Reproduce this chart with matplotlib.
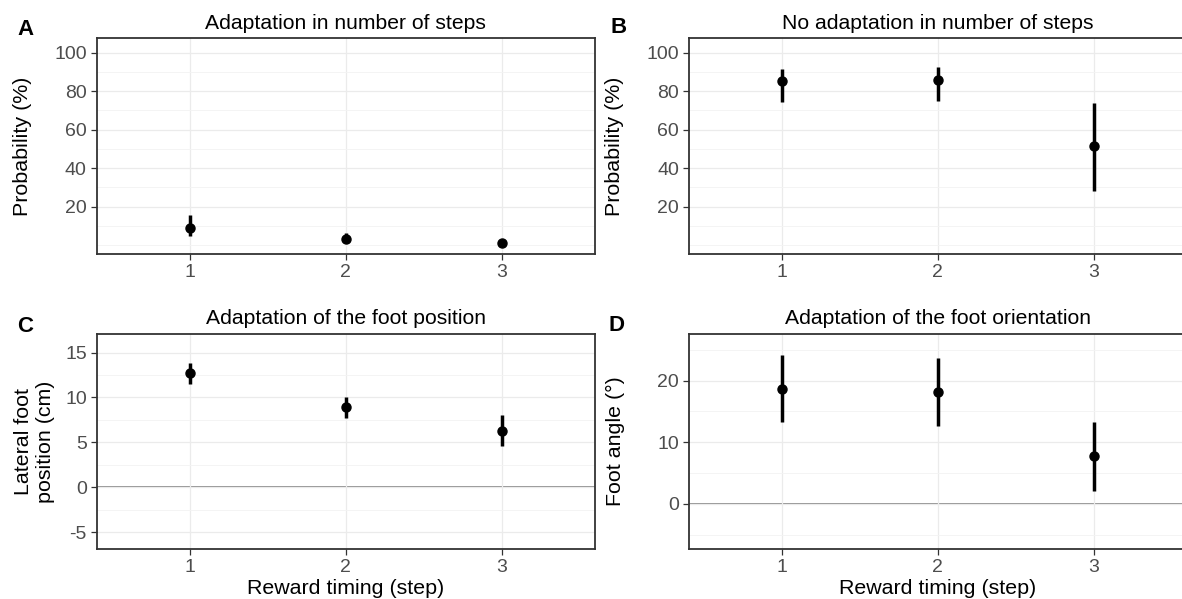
import matplotlib
matplotlib.use("Agg")
import matplotlib.pyplot as plt

plt.rcParams['font.family'] = ['Liberation Sans', 'DejaVu Sans']
plt.rcParams['axes.unicode_minus'] = False

# reward timing (step)
steps = [1, 2, 3]

# A: adaptation in number of steps (probability %)
adapt_mean = [8.8, 3.3, 1.3]
adapt_lo = [4.8, 1.0, 0.3]
adapt_hi = [15.7, 6.2, 2.4]

# B: no adaptation in number of steps (probability %)
noadapt_mean = [85.1, 86.0, 51.5]
noadapt_lo = [74.4, 74.8, 28.3]
noadapt_hi = [91.7, 92.7, 74.0]

# C: lateral foot position (cm)
pos_mean = [12.7, 8.9, 6.3]
pos_lo = [11.5, 7.7, 4.6]
pos_hi = [13.85, 10.0, 8.1]

# D: foot angle (deg)
ang_mean = [18.7, 18.2, 7.7]
ang_lo = [13.3, 12.6, 2.0]
ang_hi = [24.1, 23.7, 13.3]

W, H = 1182, 599
fig = plt.figure(figsize=(W / 100, H / 100), dpi=100)


def px_axes(left, top, right, bottom):
    return fig.add_axes([left / W, 1 - bottom / H, (right - left) / W, (bottom - top) / H])


def panel(ax, mean, lo, hi, title, ylabel, ylim, yticks, yminor, hline=False, xlabel=None, ylab_x=-0.129):
    ax.set_xlim(0.4, 3.6)
    ax.set_ylim(*ylim)
    ax.set_yticks(yticks)
    ax.set_yticks(yminor, minor=True)
    ax.set_xticks(steps)
    ax.grid(which='major', color='#EBEBEB', lw=0.9, zorder=0)
    ax.grid(which='minor', axis='y', color='#F3F3F3', lw=0.6, zorder=0)
    ax.tick_params(which='minor', length=0)
    ax.tick_params(which='major', length=4, width=0.9, color='#333333', pad=3,
                   labelsize=14, labelcolor='#4D4D4D')
    if hline:
        ax.axhline(0, color='#888888', lw=1.3, zorder=1)
    ax.vlines(steps, lo, hi, color='black', lw=2.5, zorder=3)
    ax.plot(steps, mean, 'o', color='black', ms=6.5, zorder=4)
    for s in ax.spines.values():
        s.set_color('#333333')
        s.set_linewidth(1.3)
    ax.set_title(title, fontsize=15.2, pad=7)
    ax.set_ylabel(ylabel, fontsize=15.4)
    ax.yaxis.set_label_coords(ylab_x, 0.5)
    if xlabel:
        ax.set_xlabel(xlabel, fontsize=15.4, labelpad=2)


axA = px_axes(96.5, 38.3, 595.2, 254)
axB = px_axes(688.7, 38.3, 1187, 254)
axC = px_axes(96.5, 333.7, 595.2, 549.3)
axD = px_axes(688.7, 333.7, 1187, 549.3)

prob_ticks = [20, 40, 60, 80, 100]
prob_minor = [0, 10, 30, 50, 70, 90]

panel(axA, adapt_mean, adapt_lo, adapt_hi, 'Adaptation in number of steps',
      'Probability (%)', (-4.6, 107.5), prob_ticks, prob_minor)
panel(axB, noadapt_mean, noadapt_lo, noadapt_hi, 'No adaptation in number of steps',
      'Probability (%)', (-4.6, 107.5), prob_ticks, prob_minor, ylab_x=-0.13)
panel(axC, pos_mean, pos_lo, pos_hi, 'Adaptation of the foot position',
      'Lateral foot\nposition (cm)', (-6.9, 17.1), [-5, 0, 5, 10, 15], [-2.5, 2.5, 7.5, 12.5],
      hline=True, xlabel='Reward timing (step)', ylab_x=-0.083)
panel(axD, ang_mean, ang_lo, ang_hi, 'Adaptation of the foot orientation',
      'Foot angle (°)', (-7.4, 27.6), [0, 10, 20], [-5, 5, 15, 25],
      hline=True, xlabel='Reward timing (step)', ylab_x=-0.128)

for lab, x, y in [('A', 17, 35), ('B', 610, 33), ('C', 17, 331.5), ('D', 609, 331)]:
    fig.text(x / W, 1 - y / H, lab, fontsize=16, fontweight='bold', ha='left', va='baseline')

fig.savefig('out.png', dpi=100)
